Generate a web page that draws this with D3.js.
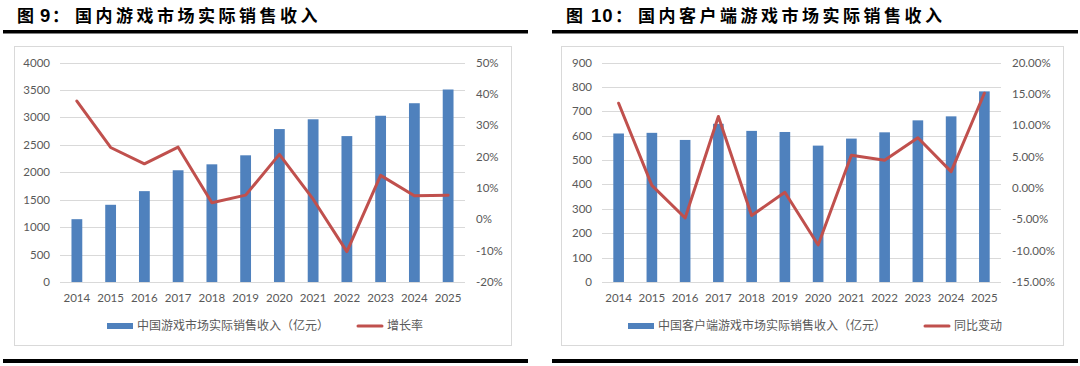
<!DOCTYPE html>
<html>
<head>
<meta charset="utf-8">
<script src="https://cdn.jsdelivr.net/npm/d3@7/dist/d3.min.js"></script>
<style>
  html, body { margin: 0; padding: 0; background: #ffffff; }
  svg { display: block; }
</style>
</head>
<body>
<svg id="chart" width="1080" height="366"></svg>
<script>
// ---------- Data ----------
const years = ["2014","2015","2016","2017","2018","2019","2020","2021","2022","2023","2024","2025"];

// Chart 9: domestic game market actual sales revenue (亿元) and growth rate (%)
const marketRevenue = [1144.8, 1407.0, 1655.7, 2036.1, 2144.4, 2308.8, 2786.9, 2965.1, 2658.8, 3029.6, 3257.8, 3507.9];
const marketGrowth  = [37.7, 22.9, 17.7, 23.0, 5.3, 7.7, 20.7, 6.4, -10.3, 14.0, 7.5, 7.7];
const marketLeftTicks  = [0, 500, 1000, 1500, 2000, 2500, 3000, 3500, 4000];
const marketRightTicks = [-20, -10, 0, 10, 20, 30, 40, 50];

// Chart 10: domestic client game market actual sales revenue (亿元) and YoY change (%)
const clientRevenue = [608.9, 611.6, 582.5, 648.6, 619.6, 615.1, 559.2, 588.0, 613.7, 662.8, 679.2, 781.6];
const clientGrowth  = [13.5, 0.4, -4.8, 11.4, -4.4, -0.7, -9.1, 5.2, 4.4, 8.0, 2.6, 15.1];
const clientLeftTicks  = [0, 100, 200, 300, 400, 500, 600, 700, 800, 900];
const clientRightTicks = [-15, -10, -5, 0, 5, 10, 15, 20];

const titleNums = ["9", "10"];
const titleBodies = ["国内游戏市场实际销售收入", "国内客户端游戏市场实际销售收入"];
const barLegends = ["中国游戏市场实际销售收入（亿元）", "中国客户端游戏市场实际销售收入（亿元）"];
const lineLegends = ["增长率", "同比变动"];

// ---------- Drawing ----------
const svg = d3.select("#chart");
const BAR = "#4F81BD", LINE = "#C0504D", GRID = "#D9D9D9", AXIS_TXT = "#595959";
const numFont = "Lato, 'Liberation Sans', sans-serif";
const cjkFont = "'Noto Sans CJK SC', sans-serif";

function fmtPct(decimals) {
  return v => (v < 0 ? "-" : "") + Math.abs(v).toFixed(decimals) + "%";
}

function drawChart(cfg) {
  const g = svg.append("g");

  // Title (pieces placed like the reference's wide-spaced heading)
  const t = g.append("text")
    .attr("y", 22)
    .attr("font-family", cjkFont).attr("font-weight", 700)
    .attr("font-size", 17).attr("fill", "#000");
  t.append("tspan").attr("x", cfg.titleX[0]).text("图");
  t.append("tspan").attr("x", cfg.titleX[1])
    .attr("font-family", "'Liberation Sans', Arial, sans-serif")
    .attr("font-size", 18.5).attr("letter-spacing", 1).text(cfg.titleNum);
  t.append("tspan").attr("x", cfg.titleX[2]).text("：");
  t.append("tspan").attr("x", cfg.titleX[3]).attr("letter-spacing", 3.5).text(cfg.titleBody);

  // Title rule
  g.append("rect")
    .attr("x", cfg.ruleX0).attr("y", 30)
    .attr("width", cfg.ruleX1 - cfg.ruleX0).attr("height", 3.5)
    .attr("fill", "#000");
  // Bottom rule
  g.append("rect")
    .attr("x", cfg.ruleX0).attr("y", 359)
    .attr("width", cfg.ruleX1 - cfg.ruleX0).attr("height", 4)
    .attr("fill", "#000");

  // Chart box
  g.append("rect")
    .attr("x", cfg.boxX0 + 0.5).attr("y", 46.5)
    .attr("width", cfg.boxX1 - cfg.boxX0).attr("height", 299)
    .attr("fill", "#fff").attr("stroke", GRID).attr("stroke-width", 1);

  const x = d3.scaleBand().domain(years)
    .range([cfg.plotX0, cfg.plotX1])
    .paddingInner(0.68).paddingOuter(0.34);
  const yL = d3.scaleLinear().domain(cfg.leftDomain).range([282, 62.5]);
  const yR = d3.scaleLinear().domain(cfg.rightDomain).range([282, 62.5]);

  // Gridlines
  g.append("g").selectAll("line").data(cfg.leftTicks).join("line")
    .attr("x1", cfg.plotX0).attr("x2", cfg.plotX1)
    .attr("y1", d => Math.round(yL(d)) + 0.5).attr("y2", d => Math.round(yL(d)) + 0.5)
    .attr("stroke", GRID).attr("stroke-width", 1);

  // Left axis labels
  g.append("g").selectAll("text").data(cfg.leftTicks).join("text")
    .attr("x", cfg.plotX0 - 10).attr("y", d => yL(d))
    .attr("dy", "0.35em").attr("text-anchor", "end")
    .attr("font-family", numFont).attr("font-size", 11.5).attr("fill", AXIS_TXT)
    .text(d => d);

  // Right axis labels
  g.append("g").selectAll("text").data(cfg.rightTicks).join("text")
    .attr("x", cfg.plotX1 + 11).attr("y", d => yR(d))
    .attr("dy", "0.35em").attr("text-anchor", "start")
    .attr("font-family", numFont).attr("font-size", 11.5).attr("fill", AXIS_TXT)
    .text(cfg.rightFmt);

  // X labels
  g.append("g").selectAll("text").data(years).join("text")
    .attr("x", d => x(d) + x.bandwidth() / 2).attr("y", 298)
    .attr("dy", "0.35em").attr("text-anchor", "middle")
    .attr("font-family", numFont).attr("font-size", 11.5).attr("fill", AXIS_TXT)
    .text(d => d);

  // Bars
  g.append("g").selectAll("rect").data(cfg.bars).join("rect")
    .attr("x", (d, i) => x(years[i]))
    .attr("y", d => yL(d))
    .attr("width", x.bandwidth())
    .attr("height", d => yL(0) - yL(d))
    .attr("fill", BAR);

  // Line
  const line = d3.line()
    .x((d, i) => x(years[i]) + x.bandwidth() / 2)
    .y(d => yR(d));
  g.append("path").datum(cfg.line)
    .attr("d", line).attr("fill", "none")
    .attr("stroke", LINE).attr("stroke-width", 3)
    .attr("stroke-linejoin", "round").attr("stroke-linecap", "round");

  // Legend
  const ly = 326;
  g.append("rect")
    .attr("x", cfg.legBarX).attr("y", ly - 3).attr("width", 26).attr("height", 6)
    .attr("fill", BAR);
  g.append("text")
    .attr("x", cfg.legBarX + 30).attr("y", ly).attr("dy", "0.35em")
    .attr("font-family", cjkFont).attr("font-size", 12).attr("fill", AXIS_TXT)
    .text(cfg.barLegend);
  g.append("line")
    .attr("x1", cfg.legLineX).attr("x2", cfg.legLineX + 24)
    .attr("y1", ly).attr("y2", ly)
    .attr("stroke", LINE).attr("stroke-width", 3).attr("stroke-linecap", "round");
  g.append("text")
    .attr("x", cfg.legLineX + 29).attr("y", ly).attr("dy", "0.35em")
    .attr("font-family", cjkFont).attr("font-size", 12).attr("fill", AXIS_TXT)
    .text(cfg.lineLegend);
}

drawChart({
  titleNum: titleNums[0], titleBody: titleBodies[0], titleX: [17, 40, 52, 75],
  ruleX0: 3, ruleX1: 528,
  boxX0: 14, boxX1: 511, plotX0: 60, plotX1: 465,
  leftDomain: [0, 4000], rightDomain: [-20, 50],
  leftTicks: marketLeftTicks, rightTicks: marketRightTicks, rightFmt: fmtPct(0),
  bars: marketRevenue, line: marketGrowth,
  legBarX: 107, legLineX: 358,
  barLegend: barLegends[0], lineLegend: lineLegends[0]
});

drawChart({
  titleNum: titleNums[1], titleBody: titleBodies[1], titleX: [566, 591, 615, 638],
  ruleX0: 552, ruleX1: 1078,
  boxX0: 561, boxX1: 1063, plotX0: 602, plotX1: 1001,
  leftDomain: [0, 900], rightDomain: [-15, 20],
  leftTicks: clientLeftTicks, rightTicks: clientRightTicks, rightFmt: fmtPct(2),
  bars: clientRevenue, line: clientGrowth,
  legBarX: 628, legLineX: 925,
  barLegend: barLegends[1], lineLegend: lineLegends[1]
});
</script>
</body>
</html>
